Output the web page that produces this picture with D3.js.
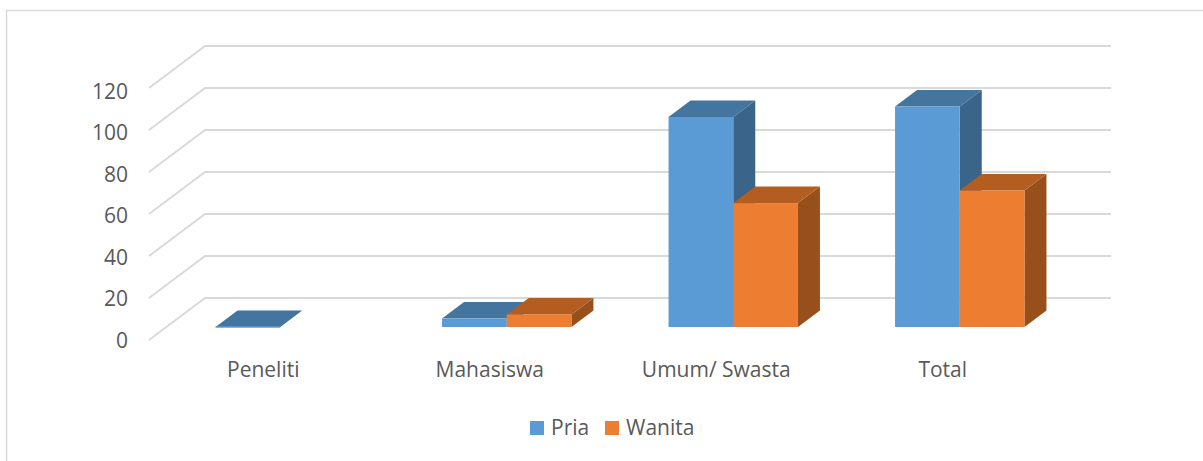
<!DOCTYPE html>
<html>
<head>
<meta charset="utf-8">
<script src="https://cdn.jsdelivr.net/npm/d3@7"></script>
<style>
  html, body { margin: 0; padding: 0; background: #fff; }
  text { font-family: "Open Sans", sans-serif; fill: #595959; }
</style>
</head>
<body>
<div id="chart"></div>
<script>
var width = 1203;
var height = 461;

var categories = ['Peneliti', 'Mahasiswa', 'Umum/ Swasta', 'Total'];
var seriesNames = ['Pria', 'Wanita'];
var pria = [0, 4, 100, 105];
var wanita = [null, 6, 59, 65];
var yTicks = [0, 20, 40, 60, 80, 100, 120];

var colors = {
  Pria: { front: '#5b9bd5', top: '#44759f', side: '#3a6488' },
  Wanita: { front: '#ed7d31', top: '#b35e20', side: '#97501c' }
};

// floor goes back this far from the front axis
var wallDx = 56, wallDy = -42;
// bars stand in the middle of the floor
var barInsetX = 18, barInsetY = -13;
var barDx = 22, barDy = -16.5;
var barWidth = 64.7;

var svg = d3.select('#chart').append('svg')
  .attr('width', width)
  .attr('height', height)
  .style('display', 'block');

// chart frame, only top and left show up in the picture
svg.append('path')
  .attr('d', 'M6.5,461V10.5H1203')
  .attr('fill', 'none')
  .attr('stroke', '#d9d9d9')
  .attr('stroke-width', 1.5);

var x = d3.scaleBand().domain(categories).range([149, 1055]);
var y = d3.scaleLinear().domain([0, 120]).range([340, 88]);
// tick labels sit a little tighter than the gridlines
var yLabels = d3.scaleLinear().domain([0, 120]).range([338, 89]);
var inner = d3.scaleBand().domain(seriesNames).range([0, barWidth * 2]);

var line = d3.line();

svg.append('g').selectAll('path')
  .data(yTicks)
  .enter()
  .append('path')
  .attr('d', function (t) {
    return line([[149, y(t)], [149 + wallDx, y(t) + wallDy], [1055 + wallDx, y(t) + wallDy]]);
  })
  .attr('fill', 'none')
  .attr('stroke', '#d9d9d9')
  .attr('stroke-width', 2);

var yAxis = d3.axisLeft(yLabels).tickValues(yTicks).tickSize(0).tickPadding(0);
svg.append('g')
  .attr('transform', 'translate(128,0)')
  .call(yAxis)
  .call(function (g) { g.select('.domain').remove(); })
  .selectAll('text')
  .attr('y', 0)
  .attr('dy', '0.45em')
  .style('font-size', '21px')
  .style('font-family', '"Open Sans", sans-serif');

var xAxis = d3.axisBottom(x).tickSize(0).tickPadding(0);
svg.append('g')
  .attr('transform', 'translate(1,377)')
  .call(xAxis)
  .call(function (g) { g.select('.domain').remove(); })
  .selectAll('text')
  .attr('y', 0)
  .attr('dy', 0)
  .style('font-size', '21px')
  .style('font-family', '"Open Sans", sans-serif');

function drawBars(name, values) {
  var c = colors[name];
  categories.forEach(function (cat, i) {
    if (values[i] === null) return;
    var left = x(cat) + x.bandwidth() / 2 - barWidth + barInsetX + inner(name);
    var right = left + inner.bandwidth();
    var base = y(0) + barInsetY;
    var top = y(values[i]) + barInsetY;
    var g = svg.append('g').attr('class', 'bar');
    g.append('path')
      .attr('d', line([[right, top], [right + barDx, top + barDy], [right + barDx, base + barDy], [right, base]]) + 'Z')
      .attr('fill', c.side);
    g.append('path')
      .attr('d', line([[left, top], [left + barDx, top + barDy], [right + barDx, top + barDy], [right, top]]) + 'Z')
      .attr('fill', c.top);
    if (values[i] > 0) {
      g.append('rect')
        .attr('x', left)
        .attr('y', top)
        .attr('width', right - left)
        .attr('height', base - top)
        .attr('fill', c.front);
    } else {
      g.append('path')
        .attr('d', line([[left, base], [right, base]]))
        .attr('stroke', c.front)
        .attr('stroke-width', 1.5);
    }
  });
}

drawBars('Pria', pria);
drawBars('Wanita', wanita);

// legend
var legendX = { Pria: 530, Wanita: 605 };
var legend = svg.append('g').selectAll('g')
  .data(seriesNames)
  .enter()
  .append('g')
  .attr('transform', function (d) { return 'translate(' + legendX[d] + ',421)'; });

legend.append('rect')
  .attr('width', 14)
  .attr('height', 14)
  .attr('fill', function (d) { return colors[d].front; });

legend.append('text')
  .attr('x', 21)
  .attr('y', 14)
  .style('font-size', '21px')
  .text(function (d) { return d; });
</script>
</body>
</html>
